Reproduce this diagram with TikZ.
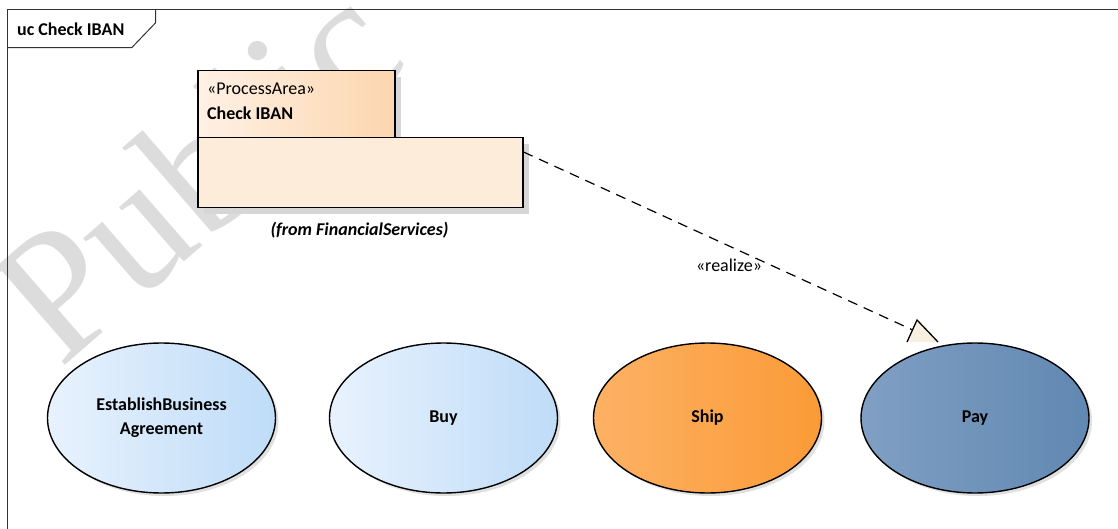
\documentclass[tikz,border=0pt]{standalone}
\usepackage{fontspec}
\setmainfont{Carlito}
\newfontfamily\wmfont{Liberation Serif}
\usetikzlibrary{calc,shapes.geometric,shadows}

\definecolor{framec}{HTML}{333333}
\definecolor{wmgray}{HTML}{DCDCDC}
\definecolor{shadowc}{HTML}{D6D6D6}
\definecolor{tabl}{HTML}{FFF1E5}
\definecolor{tabr}{HTML}{FCD6AE}
\definecolor{bodyc}{HTML}{FEECDA}
\definecolor{bluel}{HTML}{E8F2FD}
\definecolor{bluer}{HTML}{BFDCF8}
\definecolor{orl}{HTML}{FDB164}
\definecolor{orr}{HTML}{FB9B37}
\definecolor{payl}{HTML}{809FC3}
\definecolor{payr}{HTML}{6188B2}
\definecolor{tric}{HTML}{F8EFE0}

\begin{document}
\begin{tikzpicture}[x=1pt,y=-1pt,
  txt/.style={font=\fontsize{18}{24}\selectfont, inner sep=0pt},
  btxt/.style={txt, font=\fontsize{18}{24}\selectfont\bfseries},
  pkgpart/.style={draw=black, line width=1.5pt, inner sep=0pt, anchor=north west,
    drop shadow={fill=shadowc, opacity=1, shadow xshift=6pt, shadow yshift=-6pt}},
  usecase/.style={ellipse, draw=black, line width=1.4pt, inner sep=0pt,
    minimum width=228pt, minimum height=150pt, align=center,
    font=\fontsize{18}{24}\selectfont\bfseries,
    drop shadow={fill=black!12, opacity=1, shadow xshift=3pt, shadow yshift=-3pt}},
  realize/.style={line width=1.2pt, dash pattern=on 10pt off 7pt},
]
\clip (0,0) rectangle (1118,529);

% watermark
\node[wmgray, inner sep=0pt, anchor=base west, rotate=41,
  font=\wmfont\fontsize{182}{182}\selectfont] (wm) at (60,370) {Public};

% diagram frame with its name tab
\coordinate (fTL) at (7,10);
\coordinate (fTR) at (1118,10);
\coordinate (fBL) at (7,529);
\draw[framec, line width=1pt] (fTR) -- (fTL) -- (fBL);
\draw[framec, line width=1pt] (155.7,10) -- (155.7,22.7) -- (131.7,47.7) -- (7,47.7);
\node[btxt, anchor=west] (title) at (17,29) {uc Check IBAN};

% package element
\node[pkgpart, left color=tabl, right color=tabr,
  minimum width=197pt, minimum height=67pt] (tab) at (197,70) {};
\node[pkgpart, fill=bodyc, minimum width=325pt, minimum height=70pt] (body) at (197,137) {};
\node[txt, anchor=west] (stereo) at (207,89) {«ProcessArea»};
\node[btxt, anchor=west] (pkgname) at (207,113) {Check IBAN};
\node[txt, anchor=center, font=\fontsize{18}{24}\selectfont\bfseries\itshape] (from) at (359.5,230) {(from FinancialServices)};

% realization connector
\coordinate (src) at ($(body.north east)+(0,15)$);
\coordinate (headtip) at (917,320);
\coordinate (headL) at (907,342);
\coordinate (headR) at (938,342);
\coordinate (lineend) at ($(headtip)!0.45!(headL)$);
\draw[realize] (src) -- (lineend);
\fill[tric] (headtip) -- (headL) -- (headR) -- cycle;
\draw[line width=1.3pt, line join=miter] (headL) -- (headtip) -- (headR);
\node[txt] (rlbl) at (729,265) {«realize»};

% use cases
\node[usecase, left color=bluel, right color=bluer] (eba) at (161.5,418) {EstablishBusiness\\Agreement};
\node[usecase, left color=bluel, right color=bluer] (buy) at (443.5,418) {Buy};
\node[usecase, left color=orl, right color=orr] (ship) at (707.5,418) {Ship};
\node[usecase, left color=payl, right color=payr] (pay) at (975,418) {Pay};
\end{tikzpicture}
\end{document}
